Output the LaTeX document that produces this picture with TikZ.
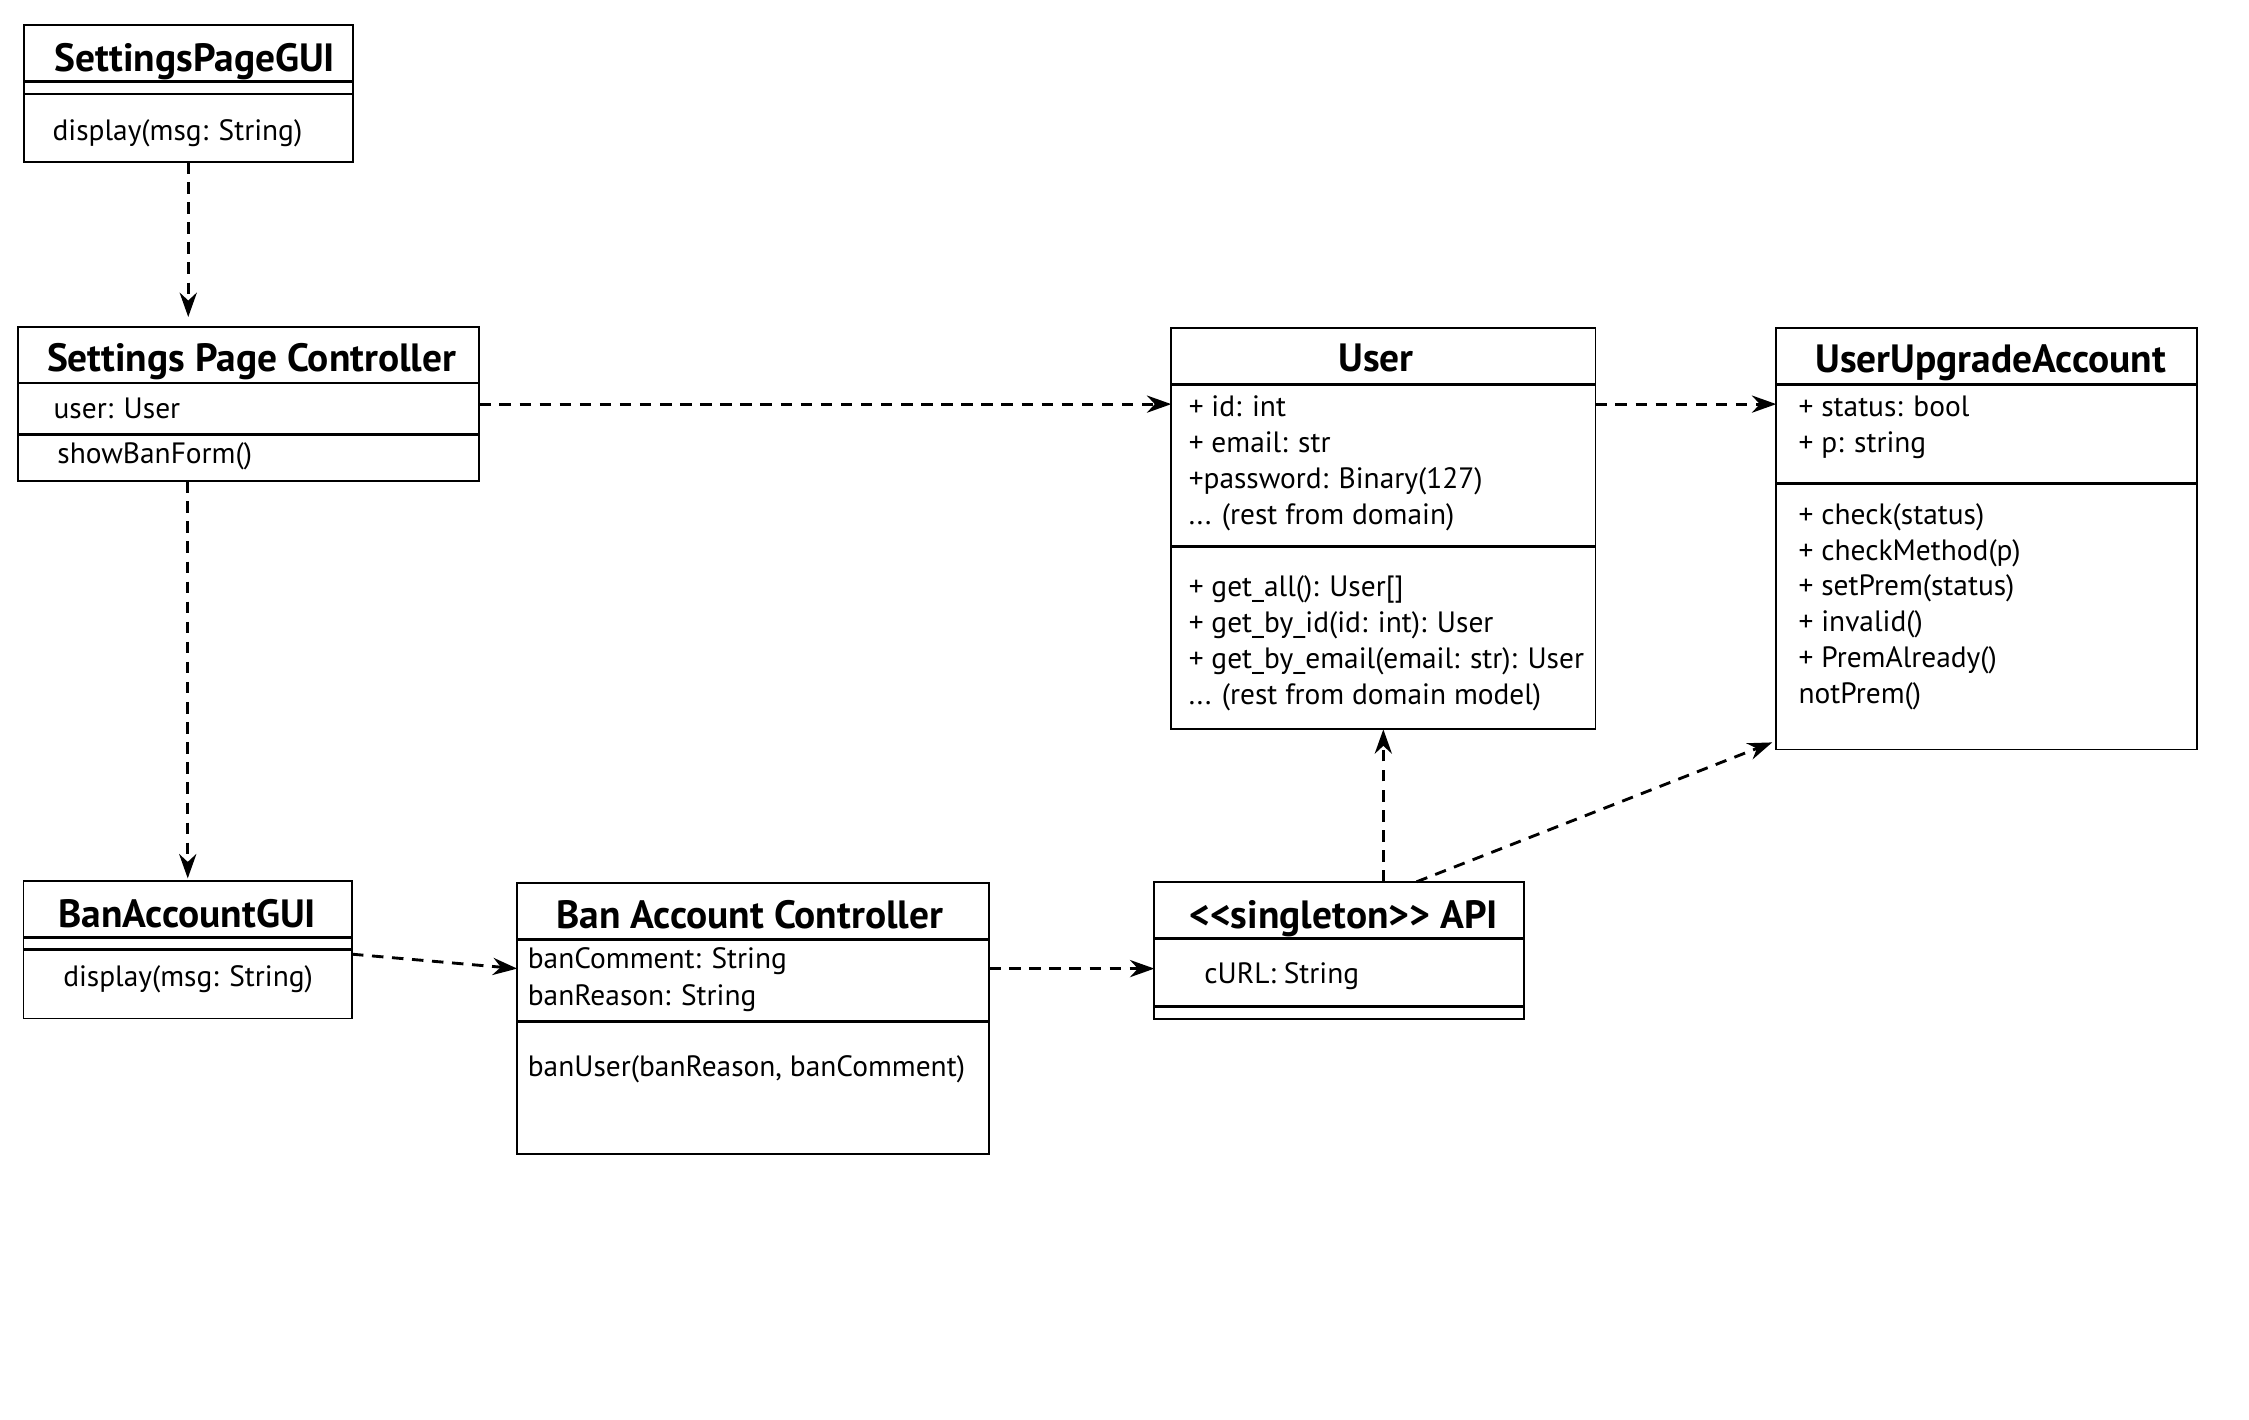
\documentclass[tikz,border=0pt]{standalone}
\usepackage{fontspec}
\setmainfont{PT Sans}
\usetikzlibrary{arrows.meta,positioning}

\begin{document}
\begin{tikzpicture}[x=1pt,y=-1pt,% display pixels, y downwards
		every node/.style={
			inner sep=0pt,outer sep=0pt,
			font=\fontsize{20.5}{24}\selectfont	% member text
		},
		box/.style={rectangle,draw=black,line width=1.2pt,anchor=north west},
		title/.style={anchor=base,font=\fontsize{27.5}{30}\selectfont\bfseries},
		item/.style={anchor=base west},
		divider/.style={line width=2pt},
		every edge/.style={draw,line width=2pt,dash pattern=on 8pt off 6pt,-{Stealth[length=17pt,width=12pt]}}
	]
	\useasboundingbox (0,0) rectangle (1568,990);
	% class boxes
	\node[box,minimum width=229.5pt,minimum height=95.5pt](SPGUI) at (16.5,17.5) {};
	\node[box,minimum width=321.5pt,minimum height=107.5pt](SPC) at (12.7,228) {};
	\node[box,minimum width=295.7pt,minimum height=280pt](User) at (816.6,228.5) {};
	\node[box,minimum width=293.3pt,minimum height=294pt](UUA) at (1238.4,228.5) {};
	\node[box,minimum width=229pt,minimum height=95.7pt](BAGUI) at (16.4,614.4) {};
	\node[box,minimum width=329pt,minimum height=189.3pt](BAC) at (360.6,615.5) {};
	\node[box,minimum width=257.6pt,minimum height=95.8pt](API) at (804.8,614.8) {};
	% compartments
	\draw[divider] (SPGUI.west |- 0,57) -- (SPGUI.east |- 0,57)
		(SPGUI.west |- 0,65.5) -- (SPGUI.east |- 0,65.5);
	\draw[divider] (SPC.west |- 0,267) -- (SPC.east |- 0,267)
		(SPC.west |- 0,303) -- (SPC.east |- 0,303);
	\draw[divider] (User.west |- 0,267.8) -- (User.east |- 0,267.8)
		(User.west |- 0,380.8) -- (User.east |- 0,380.8);
	\draw[divider] (UUA.west |- 0,267.8) -- (UUA.east |- 0,267.8)
		(UUA.west |- 0,337) -- (UUA.east |- 0,337);
	\draw[divider] (BAGUI.west |- 0,653.6) -- (BAGUI.east |- 0,653.6)
		(BAGUI.west |- 0,661.8) -- (BAGUI.east |- 0,661.8);
	\draw[divider] (BAC.west |- 0,654.8) -- (BAC.east |- 0,654.8)
		(BAC.west |- 0,712) -- (BAC.east |- 0,712);
	\draw[divider] (API.west |- 0,654.4) -- (API.east |- 0,654.4)
		(API.west |- 0,701.5) -- (API.east |- 0,701.5);
	% texts
	\node[title](SPGUIt) at (136,50) {SettingsPageGUI};
	\node[item](SPGUIm) at (36.7,98) {display(msg: String)};
	\node[title](SPCt) at (175.5,259.2) {Settings Page Controller};
	\node[item](SPCa) at (37.4,291.6) {user: User};
	\node[item](SPCm) at (40,323) {showBanForm()};
	\node[title](Usert) at (959.4,259.2) {User};
	\node[item](Usera1) at (828.8,290.6) {+ id: int};
	\node[item](Usera2) at (828.8,315.7) {+ email: str};
	\node[item](Usera3) at (828.8,340.5) {+password: Binary(127)};
	\node[item](Usera4) at (828.8,365.4) {... (rest from domain)};
	\node[item](Userm1) at (828.8,416.1) {+ get\_all(): User[]};
	\node[item](Userm2) at (828.8,441.2) {+ get\_by\_id(id: int): User};
	\node[item](Userm3) at (828.8,466.1) {+ get\_by\_email(email: str): User};
	\node[item](Userm4) at (828.8,491.2) {... (rest from domain model)};
	\node[title](UUAt) at (1388,260) {UserUpgradeAccount};
	\node[item](UUAa1) at (1254,290.6) {+ status: bool};
	\node[item](UUAa2) at (1254,315.7) {+ p: string};
	\node[item](UUAm1) at (1254,365.4) {+ check(status)};
	\node[item](UUAm2) at (1254,390.5) {+ checkMethod(p)};
	\node[item](UUAm3) at (1254,415.4) {+ setPrem(status)};
	\node[item](UUAm4) at (1254,440.5) {+ invalid()};
	\node[item](UUAm5) at (1254,465.6) {+ PremAlready()};
	\node[item](UUAm6) at (1254,490.5) {notPrem()};
	\node[title](BAGUIt) at (130.5,646.7) {BanAccountGUI};
	\node[item](BAGUIm) at (44.1,688) {display(msg: String)};
	\node[title](BACt) at (522.7,647.4) {Ban Account Controller};
	\node[item](BACa1) at (368,675.3) {banComment: String};
	\node[item](BACa2) at (368,700.8) {banReason: String};
	\node[item](BACm) at (368,750.8) {banUser(banReason, banComment)};
	\node[title](APIt) at (936.8,647.4) {<\kern0pt<singleton>\kern0pt> API};
	\node[item](APIa) at (839.7,685.7) {cURL: String};
	% free ends of the slanted connectors
	\coordinate (BACin) at (360.6,675.3);
	\coordinate (APIout) at (987.6,614.8);
	% dependencies
	\path
	(SPGUI.south) edge [shorten >=7pt] (SPC.north -| SPGUI.south)
	(SPC.south -| BAGUI.north) edge [shorten >=2pt] (BAGUI.north)
	(SPC.east) edge (User.west |- SPC.east)
	(User.east |- SPC.east) edge (UUA.west |- SPC.east)
	([yshift=-3pt]BAGUI.east) edge (BACin)
	(BACin -| BAC.east) edge (BACin -| API.west)
	(API.north -| User.south) edge (User.south)
	(APIout) edge [shorten >=3pt] ([yshift=6pt]UUA.south west)
	;
\end{tikzpicture}
\end{document}
